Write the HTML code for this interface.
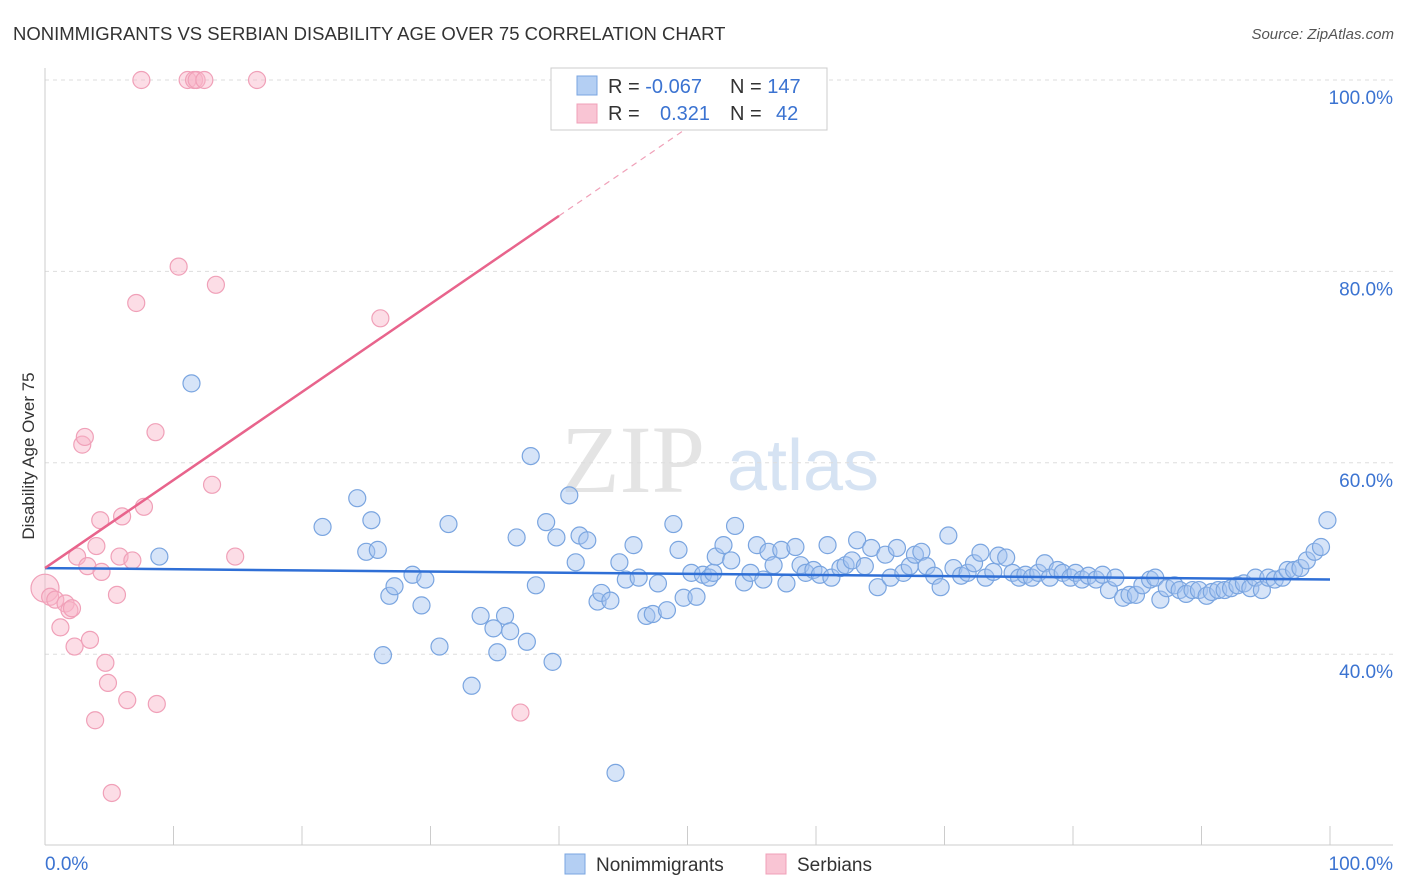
<!DOCTYPE html>
<html><head><meta charset="utf-8"><style>
body{margin:0;background:#fff;font-family:"Liberation Sans",sans-serif;}
svg{display:block}
</style></head><body>
<svg id="chart" width="1406" height="892" xmlns="http://www.w3.org/2000/svg">
<text x="13" y="40" font-size="18.5" fill="#333" font-family="Liberation Sans,sans-serif">NONIMMIGRANTS VS SERBIAN DISABILITY AGE OVER 75 CORRELATION CHART</text>
<text x="1394" y="39" font-size="15" fill="#555" text-anchor="end" font-style="italic">Source: ZipAtlas.com</text>
<g>
<text x="633" y="492" font-size="96" fill="#e4e4e4" text-anchor="middle" font-family="Liberation Serif,serif">ZIP</text>
<text x="803" y="490" font-size="72" fill="#d6e3f3" text-anchor="middle">atlas</text>
</g>
<g id="grid"></g>
<g id="axes"></g>
<g id="marks"></g>
<text transform="translate(34,456) rotate(-90)" font-size="17" fill="#333" text-anchor="middle">Disability Age Over 75</text>
<g>
<rect x="551" y="68" width="276" height="62" fill="#fff" stroke="#ccc"/>
<rect x="577" y="76" width="20" height="19" fill="#b4cff3" stroke="#7aa5e0"/>
<rect x="577" y="104" width="20" height="19" fill="#f9c5d4" stroke="#f0a0b8"/>
<text x="608" y="93" font-size="20" fill="#333">R = <tspan fill="#3b73d1">-0.067</tspan></text>
<text x="730" y="93" font-size="20" fill="#333">N = <tspan fill="#3b73d1">147</tspan></text>
<text x="608" y="120" font-size="20" fill="#333">R = <tspan fill="#3b73d1" x="660">0.321</tspan></text>
<text x="730" y="120" font-size="20" fill="#333">N = <tspan fill="#3b73d1" x="776">42</tspan></text>
</g>
<g>
<rect x="565" y="854" width="20" height="20" fill="#b4cff3" stroke="#7aa5e0"/>
<text x="596" y="871" font-size="19" fill="#333">Nonimmigrants</text>
<rect x="766" y="854" width="20" height="20" fill="#f9c5d4" stroke="#f0a0b8"/>
<text x="797" y="871" font-size="19" fill="#333">Serbians</text>
</g>
</svg>
<script>
const yTicks=[100,80,60,40];
const yTickLabels=["100.0%","80.0%","60.0%","40.0%"];
const blueX=[8.9,11.4,21.6,24.3,25.0,25.4,25.9,26.3,26.8,27.2,28.6,29.3,29.6,30.7,31.4,33.2,33.9,34.9,35.2,35.8,36.2,36.7,37.5,37.8,38.2,39.0,39.5,39.8,40.8,41.3,41.6,42.2,43.0,43.3,44.0,44.4,44.7,45.2,45.8,46.2,46.8,47.3,47.7,48.4,48.9,49.3,49.7,50.3,50.7,51.2,51.7,52.0,52.2,52.8,53.4,53.7,54.4,54.9,55.4,55.9,56.3,56.7,57.3,57.7,58.4,58.8,59.2,59.8,60.3,60.9,61.2,61.9,62.3,62.8,63.2,63.8,64.3,64.8,65.4,65.8,66.3,66.8,67.3,67.7,68.2,68.6,69.2,69.7,70.3,70.7,71.3,71.8,72.3,72.8,73.2,73.8,74.2,74.8,75.3,75.8,76.3,76.8,77.3,77.8,78.2,78.8,79.2,79.8,80.2,80.7,81.2,81.8,82.3,82.8,83.3,83.9,84.4,84.9,85.4,86.0,86.4,86.8,87.3,87.9,88.3,88.8,89.3,89.8,90.4,90.8,91.3,91.8,92.3,92.8,93.3,93.8,94.2,94.7,95.2,95.7,96.3,96.7,97.2,97.7,98.2,98.8,99.3,99.8];
const blueY=[50.2,68.3,53.3,56.3,50.7,54.0,50.9,39.9,46.1,47.1,48.3,45.1,47.8,40.8,53.6,36.7,44.0,42.7,40.2,44.0,42.4,52.2,41.3,60.7,47.2,53.8,39.2,52.2,56.6,49.6,52.4,51.9,45.5,46.4,45.6,27.6,49.6,47.8,51.4,48.0,44.0,44.2,47.4,44.6,53.6,50.9,45.9,48.5,46.0,48.3,48.0,48.5,50.2,51.4,49.8,53.4,47.5,48.5,51.4,47.8,50.7,49.3,50.9,47.4,51.2,49.3,48.5,48.8,48.3,51.4,48.0,49.0,49.3,49.8,51.9,49.2,51.1,47.0,50.4,48.0,51.1,48.5,49.2,50.4,50.7,49.2,48.2,47.0,52.4,49.0,48.2,48.5,49.5,50.6,48.0,48.6,50.3,50.1,48.5,48.0,48.3,48.0,48.5,49.5,48.0,48.8,48.5,48.0,48.5,47.8,48.2,47.8,48.3,46.7,48.0,45.9,46.2,46.2,47.2,47.8,48.0,45.7,46.9,47.2,46.7,46.3,46.7,46.7,46.1,46.5,46.7,46.7,46.9,47.2,47.4,46.9,48.0,46.7,48.0,47.8,48.0,48.8,48.8,49.0,49.8,50.7,51.2,54.0];
const pinkX=[0,0.4,0.8,1.2,1.6,1.9,2.1,2.3,2.5,2.9,3.1,3.3,3.5,3.9,4.0,4.3,4.4,4.7,4.9,5.2,5.6,5.8,6.0,6.4,6.8,7.1,7.5,7.7,8.6,8.7,10.4,11.1,11.6,11.8,12.4,13.0,13.3,14.8,16.5,26.1,37.0];
const pinkY=[46.9,46.0,45.7,42.8,45.3,44.6,44.8,40.8,50.2,61.9,62.7,49.2,41.5,33.1,51.3,54.0,48.6,39.1,37.0,25.5,46.2,50.2,54.4,35.2,49.8,76.7,100,55.4,63.2,34.8,80.5,100,100,100,100,57.7,78.6,50.2,100,75.1,33.9];
const blueTrend=[49.0,47.8];
const pinkTrend=[49.0,0.92];
const NS="http://www.w3.org/2000/svg";
function sx(v){return 45+v*12.85;}
function sy(v){return 80+(100-v)*9.57;}
function mk(tag,attrs,parent){const e=document.createElementNS(NS,tag);for(const k in attrs)e.setAttribute(k,attrs[k]);parent.appendChild(e);return e;}
const grid=document.getElementById('grid'),axes=document.getElementById('axes'),marks=document.getElementById('marks');
yTicks.forEach((t,i)=>{
 const l=mk('line',{x1:45,x2:1393,y1:sy(t),y2:sy(t),stroke:'#ddd','stroke-dasharray':'4,4'},grid);
 
 
 const tx=mk('text',{x:1393,y:sy(t)+24,'font-size':19,fill:'#3b73d1','text-anchor':'end'},axes);
 tx.textContent=yTickLabels[i];
 
 
});
const ax=mk('line',{x1:45,x2:1393,y1:845,y2:845,stroke:'#ccc'},axes);


const yax=mk('line',{x1:45,x2:45,y1:68,y2:845,stroke:'#ccc'},axes);


for(let i=0;i<=10;i++){const t=mk('line',{x1:sx(i*10),x2:sx(i*10),y1:826,y2:845,stroke:'#ccc'},axes);
 
 }
[[0,'0.0%','start',45],[100,'100.0%','end',1393]].forEach(a=>{const t=mk('text',{x:a[3],y:870,'font-size':19,fill:'#3b73d1','text-anchor':a[2]},axes);t.textContent=a[1];
 
 });
pinkX.forEach((x,i)=>{const c=mk('circle',{cx:sx(x),cy:sy(pinkY[i]),r:i===0?14:8.5,fill:'rgba(248,180,200,0.45)',stroke:'#f0a0b8','stroke-width':1.2},marks);
 
 });
blueX.forEach((x,i)=>{const c=mk('circle',{cx:sx(x),cy:sy(blueY[i]),r:8.5,fill:'rgba(164,196,240,0.45)',stroke:'#7aa5e0','stroke-width':1.2},marks);
 
 });
const bt=mk('line',{x1:sx(0),y1:sy(blueTrend[0]),x2:sx(100),y2:sy(blueTrend[1]),stroke:'#2f6fd6','stroke-width':2.5},marks);


const pe=(100-pinkTrend[0])/pinkTrend[1];
const pt=mk('line',{x1:sx(0),y1:sy(pinkTrend[0]),x2:sx(40),y2:sy(pinkTrend[0]+40*pinkTrend[1]),stroke:'#e8648c','stroke-width':2.5},marks);


const pd=mk('line',{x1:sx(40),y1:sy(pinkTrend[0]+40*pinkTrend[1]),x2:sx(pe),y2:sy(100),stroke:'#f0a0b8','stroke-width':1.2,'stroke-dasharray':'6,5'},marks);


</script>
</body></html>
